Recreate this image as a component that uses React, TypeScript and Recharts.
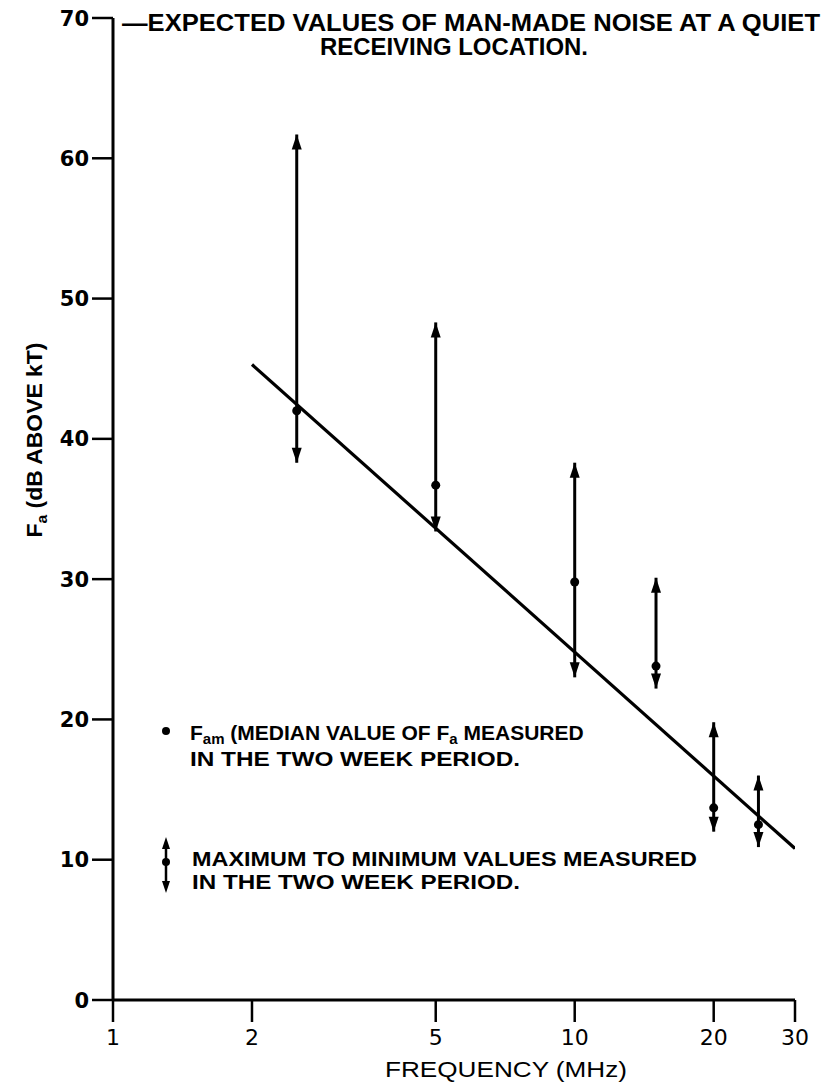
import { ScatterChart, Scatter, XAxis, YAxis, ErrorBar } from "recharts";

// median / extremes (dB above kT)
const freqs = [2.5, 5, 10, 15, 20, 25];
const medians = [42.0, 36.7, 29.8, 23.8, 13.7, 12.5];
const maxima = [61.7, 48.3, 38.3, 30.1, 19.8, 16.0];
const minima = [38.3, 33.4, 23.0, 22.2, 12.0, 10.9];

const trendFreqs = [2, 30];
const trendValues = [45.3, 10.8];

const xTicks = [1, 2, 5, 10, 20, 30];
const yTicks = [0, 10, 20, 30, 40, 50, 60, 70];

const medianData = freqs.map((f, i) => ({
  f,
  v: medians[i],
  range: [medians[i] - minima[i], maxima[i] - medians[i]],
}));
const maxData = freqs.map((f, i) => ({ f, v: maxima[i] }));
const minData = freqs.map((f, i) => ({ f, v: minima[i] }));
const trendData = trendFreqs.map((f, i) => ({ f, v: trendValues[i] }));

const FONT = "'Liberation Sans', Arial, sans-serif";
const ROUND = "'DejaVu Sans', sans-serif";

function ArrowUp(props: any) {
  const { cx, cy } = props;
  return <path d={`M${cx},${cy} L${cx - 5},${cy + 15} L${cx + 5},${cy + 15} Z`} fill="#000" />;
}

function ArrowDown(props: any) {
  const { cx, cy } = props;
  return <path d={`M${cx},${cy} L${cx - 5},${cy - 15} L${cx + 5},${cy - 15} Z`} fill="#000" />;
}

function Dot(props: any) {
  const { cx, cy } = props;
  return <circle cx={cx} cy={cy} r={4.5} fill="#000" />;
}

function NoShape() {
  return null;
}

function XTick(props: any) {
  const { x, y, payload } = props;
  return (
    <text x={x} y={y + 3} dy="0.71em" textAnchor="middle" fontSize={22} fontFamily={ROUND} fill="#000">
      {payload.value}
    </text>
  );
}

function YTick(props: any) {
  const { x, y, payload } = props;
  return (
    <text x={x} y={y} dy="0.36em" textAnchor="end" fontSize={21} fontWeight="bold" fontFamily={ROUND} fill="#000">
      {payload.value}
    </text>
  );
}

export default function App() {
  return (
    <div style={{ position: "absolute", left: 0, top: 0, width: 831, height: 1088, background: "#fff" }}>
      <ScatterChart width={831} height={1088} margin={{ top: 18, right: 36, bottom: 0, left: 0 }}>
        <XAxis
          type="number"
          dataKey="f"
          scale="log"
          domain={[1, 30]}
          ticks={xTicks}
          allowDataOverflow
          height={88}
          tickSize={22}
          tickMargin={4}
          axisLine={{ stroke: "#000", strokeWidth: 3 }}
          tickLine={{ stroke: "#000", strokeWidth: 2.5 }}
          tick={<XTick />}
        />
        <YAxis
          type="number"
          dataKey="v"
          domain={[0, 70]}
          ticks={yTicks}
          width={113}
          tickSize={21}
          tickMargin={3}
          axisLine={{ stroke: "#000", strokeWidth: 3 }}
          tickLine={{ stroke: "#000", strokeWidth: 2.5 }}
          tick={<YTick />}
        />
        <Scatter
          data={trendData}
          line={{ stroke: "#000", strokeWidth: 3.2 }}
          shape={<NoShape />}
          isAnimationActive={false}
        />
        <Scatter data={medianData} shape={<Dot />} isAnimationActive={false}>
          <ErrorBar dataKey="range" direction="y" width={0} stroke="#000" strokeWidth={3} isAnimationActive={false} />
        </Scatter>
        <Scatter data={maxData} shape={<ArrowUp />} isAnimationActive={false} />
        <Scatter data={minData} shape={<ArrowDown />} isAnimationActive={false} />
      </ScatterChart>
      <svg
        width={831}
        height={1088}
        style={{ position: "absolute", left: 0, top: 0, pointerEvents: "none" }}
        fontFamily={FONT}
        fontWeight="bold"
        fill="#000"
      >
        <text x={122} y={31} fontSize={23} textLength={698} lengthAdjust="spacingAndGlyphs">
          —EXPECTED VALUES OF MAN-MADE NOISE AT A QUIET
        </text>
        <text x={320} y={55} fontSize={23} textLength={268} lengthAdjust="spacingAndGlyphs">
          RECEIVING LOCATION.
        </text>

        <text
          x={0}
          y={0}
          fontSize={22}
          textAnchor="middle"
          transform="translate(42,440) rotate(-90)"
          textLength={195}
          lengthAdjust="spacingAndGlyphs"
        >
          F<tspan fontSize={15} dy={5}>a</tspan>
          <tspan dy={-5}> (dB ABOVE kT)</tspan>
        </text>

        <text x={506} y={1077} fontSize={22} fontWeight="normal" textAnchor="middle" textLength={242} lengthAdjust="spacingAndGlyphs">
          FREQUENCY  (MHz)
        </text>

        <circle cx={166} cy={731} r={4} fill="#000" />
        <text x={190} y={740} fontSize={21}>
          F<tspan fontSize={15} dy={4}>am</tspan>
          <tspan dy={-4}> (MEDIAN VALUE OF F</tspan>
          <tspan fontSize={15} dy={4}>a</tspan>
          <tspan dy={-4}> MEASURED</tspan>
        </text>
        <text x={190} y={766} fontSize={21} textLength={330} lengthAdjust="spacingAndGlyphs">
          IN THE TWO WEEK PERIOD.
        </text>

        <line x1={166} y1={846} x2={166} y2={884} stroke="#000" strokeWidth={2.5} />
        <path d="M166,837 L162,849 L170,849 Z" fill="#000" />
        <path d="M166,893 L162,881 L170,881 Z" fill="#000" />
        <circle cx={166} cy={862} r={4} fill="#000" />
        <text x={192} y={866} fontSize={21} textLength={505} lengthAdjust="spacingAndGlyphs">
          MAXIMUM  TO MINIMUM  VALUES MEASURED
        </text>
        <text x={192} y={889} fontSize={21} textLength={328} lengthAdjust="spacingAndGlyphs">
          IN THE TWO WEEK PERIOD.
        </text>
      </svg>
    </div>
  );
}
